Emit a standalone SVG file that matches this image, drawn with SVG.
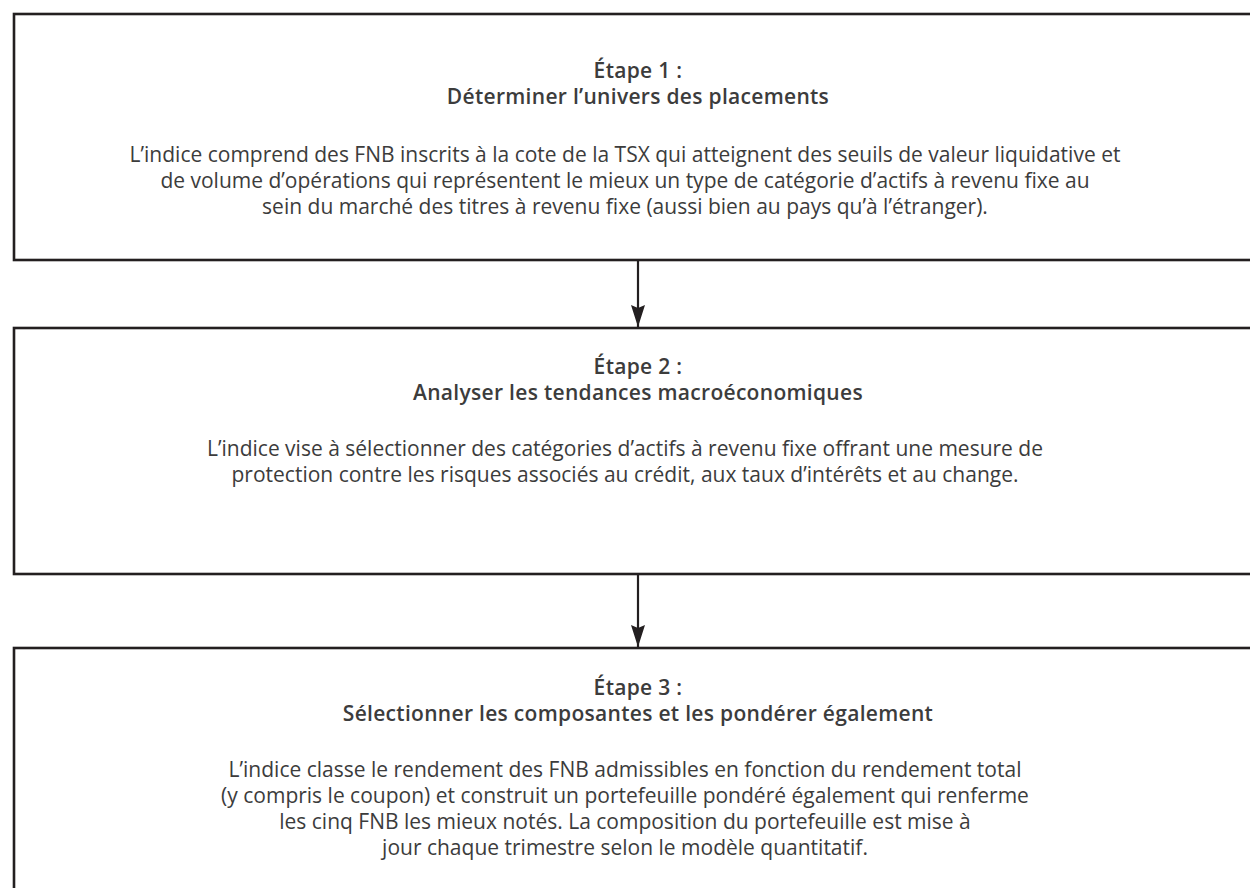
<svg xmlns="http://www.w3.org/2000/svg" width="1250" height="888" viewBox="0 0 1250 888">
<defs>
<style>
.box{fill:#ffffff;stroke:#231f20;stroke-width:2.6}
.t{font-family:"Open Sans","Liberation Sans",sans-serif;font-size:21px;fill:#3c3c3c;text-anchor:middle}
.h{font-weight:600;letter-spacing:0.3px}
.conn{stroke:#231f20;stroke-width:2.2;fill:none}
</style>
<marker id="arr" viewBox="0 0 22 14" refX="22" refY="7" markerWidth="22" markerHeight="14" markerUnits="userSpaceOnUse" orient="auto">
<path d="M0,0 L22,7 L0,14 L3,7 Z" fill="#231f20"/>
</marker>
</defs>
<rect width="1250" height="888" fill="#ffffff"/>
<g id="connectors">
<line class="conn" x1="638" y1="261" x2="638" y2="327" marker-end="url(#arr)"/>
<line class="conn" x1="638" y1="575" x2="638" y2="647" marker-end="url(#arr)"/>
</g>
<g id="step1">
<rect class="box" x="14" y="14" width="1260" height="246"/>
<text class="t h" x="638" y="78">Étape 1 :</text>
<text class="t h" x="638" y="104">Déterminer l’univers des placements</text>
<text class="t" x="625" y="162">L’indice comprend des FNB inscrits à la cote de la TSX qui atteignent des seuils de valeur liquidative et</text>
<text class="t" x="625" y="188">de volume d’opérations qui représentent le mieux un type de catégorie d’actifs à revenu fixe au</text>
<text class="t" x="625" y="214">sein du marché des titres à revenu fixe (aussi bien au pays qu’à l’étranger).</text>
</g>
<g id="step2">
<rect class="box" x="14" y="328" width="1260" height="246"/>
<text class="t h" x="638" y="374">Étape 2 :</text>
<text class="t h" x="638" y="400">Analyser les tendances macroéconomiques</text>
<text class="t" x="625" y="456">L’indice vise à sélectionner des catégories d’actifs à revenu fixe offrant une mesure de</text>
<text class="t" x="625" y="482">protection contre les risques associés au crédit, aux taux d’intérêts et au change.</text>
</g>
<g id="step3">
<rect class="box" x="14" y="648" width="1260" height="260"/>
<text class="t h" x="638" y="695">Étape 3 :</text>
<text class="t h" x="638" y="721">Sélectionner les composantes et les pondérer également</text>
<text class="t" x="625" y="777">L’indice classe le rendement des FNB admissibles en fonction du rendement total</text>
<text class="t" x="625" y="803">(y compris le coupon) et construit un portefeuille pondéré également qui renferme</text>
<text class="t" x="625" y="829">les cinq FNB les mieux notés. La composition du portefeuille est mise à</text>
<text class="t" x="625" y="855">jour chaque trimestre selon le modèle quantitatif.</text>
</g>
</svg>
